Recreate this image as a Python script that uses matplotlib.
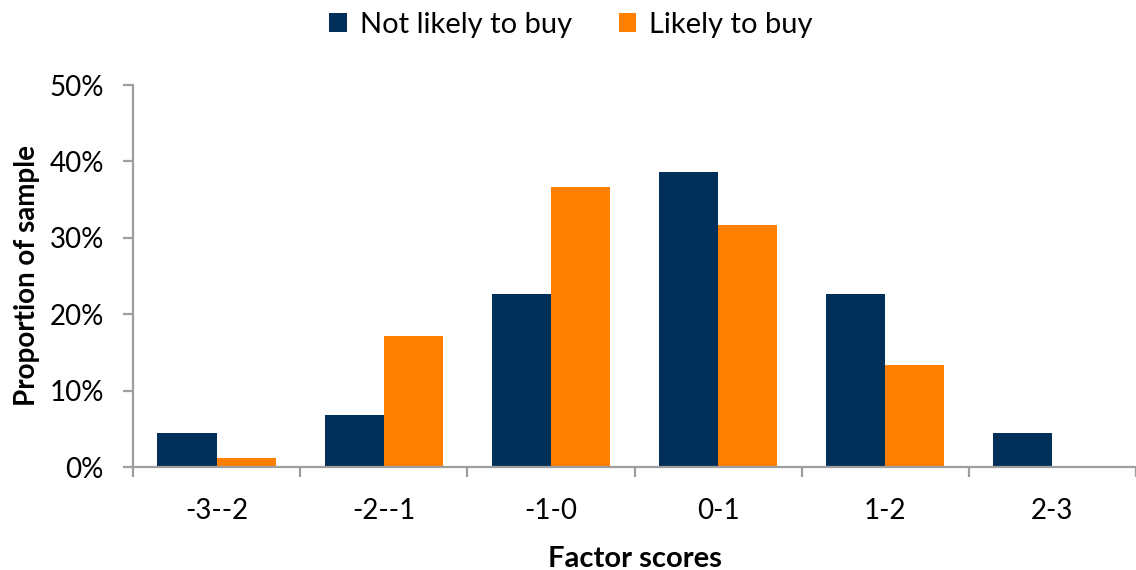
import matplotlib
matplotlib.use("Agg")
import matplotlib.pyplot as plt
import numpy as np
from matplotlib.ticker import PercentFormatter

categories = ["-3--2", "-2--1", "-1-0", "0-1", "1-2", "2-3"]
not_likely = [4.5, 6.8, 22.7, 38.6, 22.7, 4.5]
likely = [1.2, 17.1, 36.6, 31.7, 13.4, 0.0]
series_names = ["Not likely to buy", "Likely to buy"]
y_ticks = [0, 10, 20, 30, 40, 50]

NAVY = "#00305A"
ORANGE = "#FF7F00"
AXIS_GRAY = "#9E9E9E"

plt.rcParams["font.family"] = ["Lato", "DejaVu Sans"]

W, H = 1136, 570
fig = plt.figure(figsize=(W / 100, H / 100), dpi=100)
left, right, bottom, top = 133, 1136, 103, 485
ax = fig.add_axes([left / W, bottom / H, (right - left) / W, (top - bottom) / H])

x = np.arange(len(categories))
bw = 0.354
ax.bar(x - bw / 2, not_likely, width=bw, color=NAVY, label=series_names[0], zorder=2)
ax.bar(x + bw / 2, likely, width=bw, color=ORANGE, label=series_names[1], zorder=2)

ax.set_xlim(-0.5, 5.5 - 5 / 168)
ax.set_ylim(0, 50)
ax.set_yticks(y_ticks)
ax.yaxis.set_major_formatter(PercentFormatter(decimals=0))
ax.set_xticks(np.arange(len(categories) + 1) - 0.5)
ax.set_xticklabels([])
ax.set_xticks(x, minor=True)
ax.set_xticklabels(categories, minor=True)

for s in ["top", "right"]:
    ax.spines[s].set_visible(False)
for s in ["left", "bottom"]:
    ax.spines[s].set_color(AXIS_GRAY)
    ax.spines[s].set_linewidth(1.6)

ax.tick_params(axis="y", which="major", length=7, width=1.6, color=AXIS_GRAY,
               labelsize=20, pad=14, labelcolor="black")
ax.tick_params(axis="x", which="major", length=7, width=1.6, color=AXIS_GRAY,
               direction="out")
ax.tick_params(axis="x", which="minor", length=0, labelsize=20, pad=22,
               labelcolor="black")

ax.set_xlabel("Factor scores", fontsize=21, fontweight="bold", labelpad=16)
ax.set_ylabel("Proportion of sample", fontsize=20, fontweight="bold")
ax.yaxis.set_label_coords(-93 / (right - left), 0.5)

leg = fig.legend(loc="center", bbox_to_anchor=(571 / W, 1 - 25 / H), ncol=2,
                 frameon=False, fontsize=21, handlelength=0.6, handleheight=0.6,
                 handletextpad=0.45, columnspacing=1.6)

fig.savefig("out.png", dpi=100)
